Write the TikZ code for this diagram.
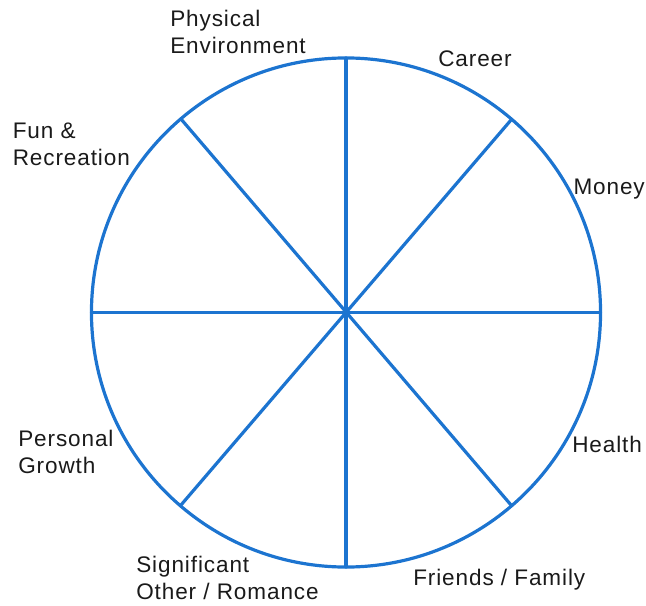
\documentclass[tikz,border=0pt]{standalone}
\usepackage{fontspec}
\setmainfont{Liberation Sans}[LetterSpace=4]
\definecolor{wheelblue}{HTML}{1C74D0}
\definecolor{labelgray}{HTML}{1A1A1A}
\tikzset{
  spoke/.style={draw=wheelblue, line width=2.4pt},
  area/.style={anchor=base west, inner sep=0pt, align=left, text=labelgray}
}
\begin{document}
\begin{tikzpicture}[x=0.75pt, y=-0.75pt, line join=round, line cap=round, font=\fontsize{16.9}{20.25}\selectfont]
\useasboundingbox (0,0) rectangle (646,606);
\path
(346,312.5)coordinate(O)
(346,58)coordinate(T)
(346,567)coordinate(B)
(91.5,312.5)coordinate(L)
(600.5,312.5)coordinate(R)
(181,119)coordinate(TL)
(511,120)coordinate(TR)
(181,505)coordinate(BL)
(511,505)coordinate(BR)
;
\draw[spoke] (O) circle[radius=190.9pt];
\foreach \a/\b in {T/B,L/R,TL/BR,TR/BL} \draw[spoke](\a)--(\b);
% labels round the wheel (base = last line)
\node[area] (phys) at (170,54) {Physical\\Environment};
\node[area] (career) at (438,67) {Career};
\node[area,anchor=base east] (money) at (645,195) {Money};
\node[area] (fun) at (12.5,166) {Fun \&\\Recreation};
\node[area] (growth) at (18,473) {Personal\\Growth};
\node[area] (health) at (572,452) {Health};
\node[area] (romance) at (136,599) {Significant\\Other / Romance};
\node[area] (family) at (413,585) {Friends / Family};
\end{tikzpicture}
\end{document}
